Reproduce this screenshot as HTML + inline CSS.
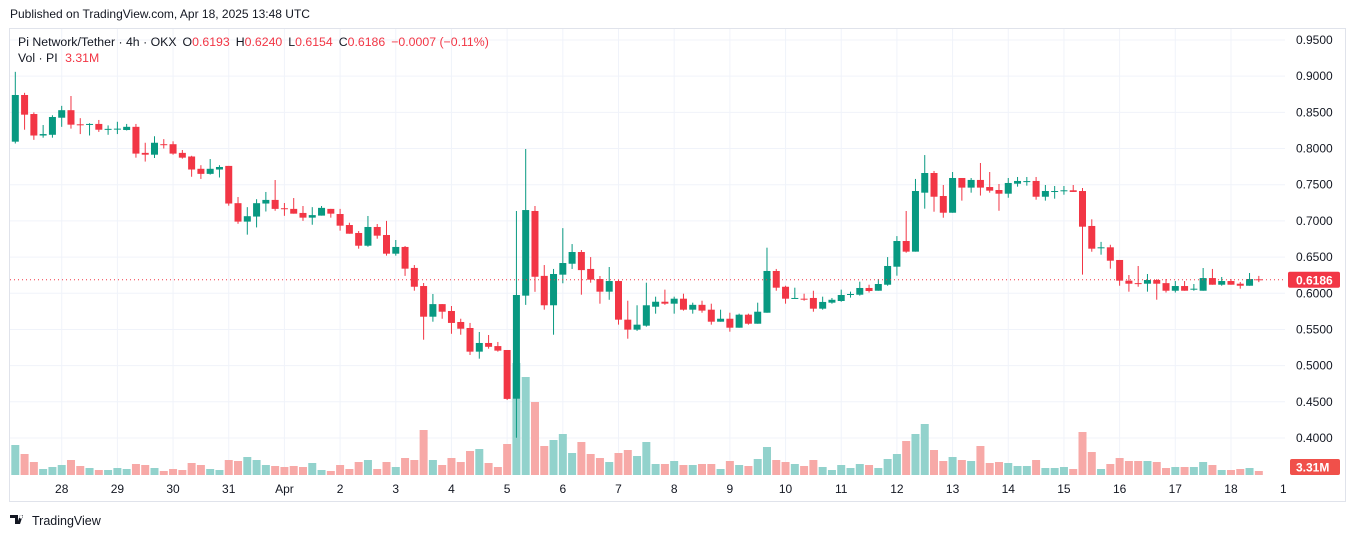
<!DOCTYPE html>
<html><head><meta charset="utf-8">
<style>
html,body{margin:0;padding:0;background:#fff;width:1352px;height:538px;overflow:hidden;font-family:"Liberation Sans",sans-serif;}
svg{display:block}
text{font-family:"Liberation Sans",sans-serif}
</style></head>
<body>
<svg id="chart" width="1352" height="538" viewBox="0 0 1352 538" xmlns="http://www.w3.org/2000/svg">
  <text x="10" y="18" font-size="12" fill="#131722">Published on TradingView.com, Apr 18, 2025 13:48 UTC</text>
  <rect x="9.5" y="28.5" width="1336" height="473" fill="none" stroke="#e0e3eb"/>
  <g id="grid"></g>
  <defs><clipPath id="pane"><rect x="10" y="29" width="1275" height="446"/></clipPath></defs>
  <g id="vol" clip-path="url(#pane)"></g>
  <g id="candles" clip-path="url(#pane)"></g>
  <g id="yaxis"></g>
  <g id="xaxis"></g>
  <g font-size="12.3">
    <text x="18" y="46" fill="#131722">Pi Network/Tether · 4h · OKX<tspan dx="6">O</tspan><tspan fill="#f23645">0.6193</tspan><tspan dx="6">H</tspan><tspan fill="#f23645">0.6240</tspan><tspan dx="6">L</tspan><tspan fill="#f23645">0.6154</tspan><tspan dx="6">C</tspan><tspan fill="#f23645">0.6186</tspan><tspan fill="#f23645" dx="6">−0.0007 (−0.11%)</tspan></text>
    <text x="18" y="62" fill="#131722">Vol · PI <tspan fill="#f23645" dx="4">3.31M</tspan></text>
  </g>
  <g>
    <path d="M10 515h8v9h-3v-6h-5z M20 515h3l-3 9h-3z M21 515a1.8 1.8 0 1 0 0.01 0" fill="#131722"/>
    <text x="32" y="525" font-size="12.5" fill="#131722">TradingView</text>
  </g>
</svg>
<script>
const opens=[.8095,.874,.8477,.818,.819,.8426,.853,.8335,.8335,.834,.827,.827,.8256,.830,.794,.7915,.806,.806,.794,.789,.772,.765,.771,.776,.7245,.699,.706,.724,.729,.7175,.7166,.711,.7045,.7073,.7166,.7095,.6943,.6833,.6657,.6916,.6805,.6547,.664,.635,.610,.5676,.585,.5755,.5603,.552,.5193,.5313,.527,.5216,.4543,.5967,.7137,.624,.5834,.6257,.6408,.657,.6336,.6197,.6022,.6169,.5635,.5497,.5552,.5814,.5883,.5856,.5925,.5773,.584,.5773,.5607,.5648,.5524,.5704,.5579,.5731,.6308,.609,.5925,.5925,.5935,.5787,.587,.5893,.5976,.598,.6073,.6035,.6118,.6367,.6722,.6575,.739,.7662,.7344,.7113,.7593,.746,.7566,.7468,.7427,.7376,.7514,.7548,.7552,.7334,.741,.741,.7423,.7413,.693,.6623,.6635,.646,.6174,.614,.6132,.6183,.614,.6035,.61,.6058,.6035,.621,.6118,.6169,.6132,.6104,.6193];
const highs=[.906,.877,.850,.8325,.846,.859,.8726,.842,.835,.8395,.832,.837,.834,.834,.808,.817,.813,.810,.798,.790,.777,.7855,.777,.776,.733,.719,.730,.740,.7565,.7247,.7316,.7206,.719,.7206,.7166,.7166,.6975,.686,.7068,.6957,.70,.6736,.6653,.639,.6142,.599,.585,.5824,.5648,.559,.5465,.5423,.5327,.5216,.7137,.7994,.7206,.639,.6336,.690,.668,.6598,.650,.6238,.6363,.6183,.5897,.5834,.6146,.5953,.605,.5953,.5994,.587,.5897,.5856,.5773,.5731,.5718,.5718,.587,.663,.6336,.6104,.6077,.5994,.6035,.5953,.5935,.605,.6022,.616,.6118,.6197,.650,.679,.7137,.758,.791,.769,.7496,.7676,.7593,.7593,.780,.7676,.751,.7593,.7607,.7607,.7607,.7496,.7482,.7482,.7496,.7455,.7022,.671,.667,.646,.6252,.6377,.6266,.6197,.6197,.6169,.6169,.6128,.6349,.6336,.6225,.6197,.6155,.628,.624];
const lows=[.807,.826,.812,.815,.815,.830,.8275,.820,.818,.823,.819,.820,.825,.7874,.782,.787,.800,.7915,.786,.761,.758,.764,.760,.721,.696,.681,.691,.713,.714,.707,.710,.700,.6947,.7073,.7045,.6865,.6823,.6616,.6643,.6754,.652,.652,.624,.6035,.5358,.5607,.5648,.544,.5427,.5147,.5096,.5234,.5193,.4525,.4004,.584,.602,.5773,.5427,.6138,.6336,.598,.6146,.5856,.591,.5566,.5372,.548,.5538,.5718,.584,.5718,.576,.5718,.5731,.5566,.5607,.5469,.5524,.5566,.5579,.5731,.6035,.5856,.5925,.5897,.5745,.5773,.5856,.5883,.594,.5967,.601,.6035,.6104,.6243,.656,.6575,.7169,.7127,.7044,.7113,.728,.739,.735,.739,.714,.732,.7473,.7487,.7293,.728,.7307,.7362,.74,.6257,.6574,.6533,.634,.6104,.6022,.609,.6022,.5911,.601,.601,.6035,.6035,.6035,.6118,.6104,.6118,.6063,.6104,.6154];
const closes=[.874,.8468,.818,.820,.8436,.853,.833,.833,.834,.826,.8272,.8275,.830,.793,.7915,.808,.8055,.793,.7874,.771,.765,.772,.7745,.724,.699,.7065,.7245,.729,.7166,.717,.710,.7045,.708,.718,.710,.6934,.6823,.6657,.6916,.6796,.6547,.664,.634,.609,.5676,.585,.5745,.559,.551,.5193,.5313,.526,.5207,.454,.5976,.715,.6228,.5834,.6266,.6418,.657,.632,.6188,.6022,.6169,.5635,.5497,.5566,.5834,.5883,.5856,.5925,.5773,.584,.576,.5607,.5648,.5524,.5704,.5579,.5745,.6308,.6077,.5925,.5935,.592,.5787,.588,.591,.5976,.599,.6073,.6031,.6128,.6377,.6722,.6575,.7413,.7662,.7334,.7113,.7593,.746,.7566,.746,.7418,.7376,.7524,.7552,.755,.7334,.7413,.7413,.7423,.74,.692,.6616,.6635,.645,.6174,.6132,.6135,.6183,.6132,.6035,.61,.6035,.6063,.621,.6118,.6169,.6118,.6104,.6197,.6186];
const volumes=[30,21,13,6,8,10,15,9,7,5,5,7,6,11,10,7,4,6,5,12,10,6,5,15,14,18,15,10,9,8,9,8,12,5,4,10,6,13,15,6,13,8,17,15,45,15,10,17,13,24,26,12,8,31,112,98,73,29,35,41,22,33,21,17,13,22,25,19,33,11,11,14,10,10,11,11,6,14,10,9,16,28,15,13,11,9,15,8,5,10,7,11,10,7,16,21,34,41,51,25,14,18,15,14,29,12,13,12,9,9,15,7,7,8,6,43,23,6,11,17,14,14,14,13,7,8,8,8,13,10,5,5,6,7,4];
const priceTicks=[0.95,0.90,0.85,0.80,0.75,0.70,0.65,0.60,0.55,0.50,0.45,0.40];
const dayLabels=["28","29","30","31","Apr","2","3","4","5","6","7","8","9","10","11","12","13","14","15","16","17","18","19"];
const lastPrice=0.6186;
const lastVolumeLabel="3.31M";

const NS="http://www.w3.org/2000/svg";
const yP=p=>40+(0.95-p)*723.6;
const xI=i=>15.3+9.28*i;
const yV=v=>475-v*1.0;
function mk(tag,attrs,parent){const e=document.createElementNS(NS,tag);for(const k in attrs)e.setAttribute(k,attrs[k]);parent.appendChild(e);return e;}
const grid=document.getElementById('grid'),yaxis=document.getElementById('yaxis'),xaxis=document.getElementById('xaxis');
const vol=document.getElementById('vol'),cg=document.getElementById('candles');

priceTicks.forEach(p=>{
  const y=yP(p);
  const l=mk('line',{x1:10,x2:1285,y1:y,y2:y,stroke:'#f0f3fa','stroke-width':1},grid);
  
  
  const t=mk('text',{x:1296,y:y+4,'font-size':12,fill:'#131722'},yaxis);
  t.textContent=p.toFixed(4);
  
  
});
const xc=mk('clipPath',{id:'xclip'},document.querySelector('defs'));
mk('rect',{x:0,y:470,width:1286,height:40},xc);
dayLabels.forEach((d,k)=>{
  const x=xI(5+6*k);
  if(x<1285){
    const l=mk('line',{x1:x,x2:x,y1:29,y2:475,stroke:'#f0f3fa','stroke-width':1},grid);
    
    
  }
  const t=mk('text',{x:x,y:493,'font-size':12,fill:'#131722','text-anchor':'middle'},xaxis);
  t.textContent=d;
  
  
  if(x>1280){t.setAttribute('clip-path','url(#xclip)');}
});

volumes.forEach((v,i)=>{
  const up=closes[i]>=opens[i];
  const r=mk('rect',{x:xI(i)-4,y:yV(v),width:8,height:475-yV(v),fill:up?'#92d2cc':'#f7a9a7'},vol);
  
  
});
opens.forEach((o,i)=>{
  const c=closes[i],up=c>=o,col=up?'#089981':'#f23645',x=xI(i);
  const w=mk('line',{x1:x,x2:x,y1:yP(highs[i]),y2:yP(lows[i]),stroke:col,'stroke-width':1},cg);
  
  
  const top=yP(Math.max(o,c)),bot=yP(Math.min(o,c));
  const b=mk('rect',{x:x-3.5,y:top,width:7,height:Math.max(1,bot-top),fill:col},cg);
  
  
});
const ly=yP(lastPrice);
const pl=mk('line',{x1:10,x2:1285,y1:ly,y2:ly,stroke:'#f23645','stroke-width':1,'stroke-dasharray':'1 3'},cg.parentNode);


const pb=mk('rect',{x:1288,y:ly-8,width:52,height:16,rx:2,fill:'#f23645'},yaxis);


const pt=mk('text',{x:1296,y:ly+4.5,'font-size':12,fill:'#fff','font-weight':'bold'},yaxis);
pt.textContent=lastPrice.toFixed(4);


const vb=mk('rect',{x:1290,y:459,width:50,height:16,rx:2,fill:'#f0504a'},yaxis);


const vt=mk('text',{x:1296,y:471.5,'font-size':12,fill:'#fff','font-weight':'bold'},yaxis);
vt.textContent=lastVolumeLabel;


</script>
</body></html>
